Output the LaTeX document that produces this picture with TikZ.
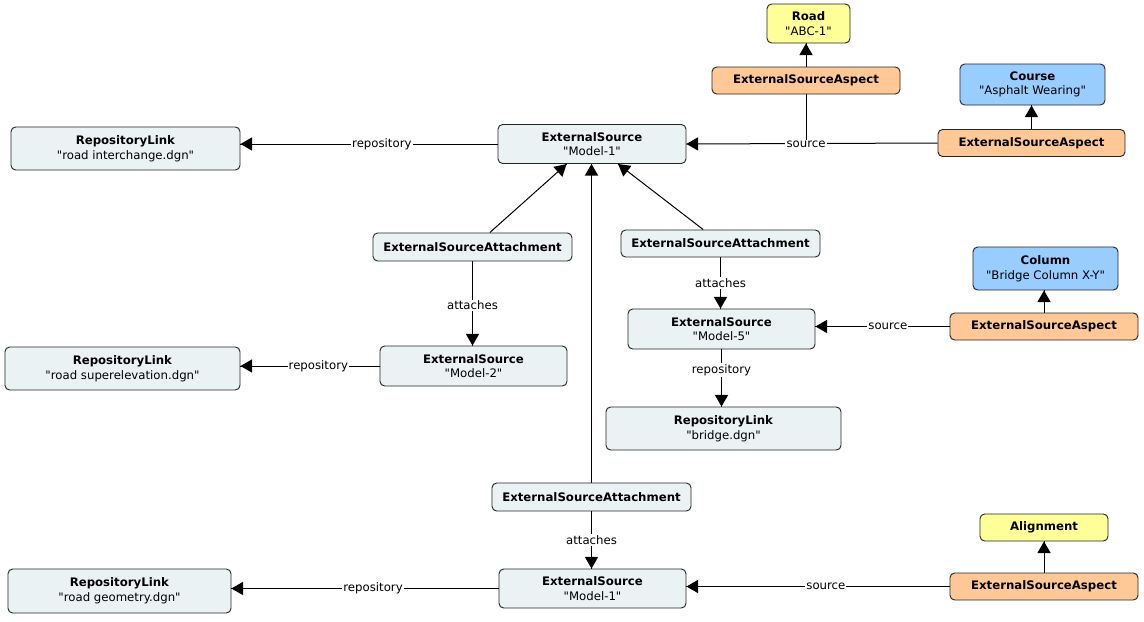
\documentclass[tikz,border=0pt]{standalone}
\usepackage{fontspec}
\setmainfont{DejaVu Sans}[Ligatures=TeXOff]
\usetikzlibrary{arrows}
\usetikzlibrary{decorations.markings}
\usetikzlibrary{positioning}
\tikzset{arr/.style = {decoration={markings,
                                   mark=at position 1 with {\arrow[scale=1.35]{triangle 60}}},
                       postaction={decorate}}}
\tikzset{box/.style = {draw=black!85, line width=0.7pt, rounded corners=3.5pt, align=center,
                       inner sep=0, font=\fontsize{8.8}{11}\selectfont}}
\tikzset{src/.style = {box, fill=srcgray}}
\tikzset{asp/.style = {box, fill=asporange}}
\tikzset{ylw/.style = {box, fill=elemyellow}}
\tikzset{blu/.style = {box, fill=elemblue}}
\tikzset{sz/.style 2 args = {minimum width=#1*0.75pt, minimum height=#2*0.75pt}}
\tikzset{lbl/.style = {fill=white, inner sep=0.8pt, font=\fontsize{8.8}{10}\selectfont}}
\tikzset{conn/.style = {line width=0.75pt}}
\definecolor{srcgray}{RGB}{235, 242, 244}
\definecolor{asporange}{RGB}{255, 200, 150}
\definecolor{elemyellow}{RGB}{255, 255, 153}
\definecolor{elemblue}{RGB}{153, 204, 255}

\begin{document}
\begin{tikzpicture}[x=0.75pt, y=-0.75pt]
  \useasboundingbox (0,0) rectangle (1144,621);

  % top: Model-1 and its aspects
  \node [ylw, sz={83}{39}] (road) at (808.5, 23.5) {\textbf{Road}\\"ABC-1"};
  \node [asp, sz={188}{27}] (aspA) at (806, 80.5) {\textbf{ExternalSourceAspect}};
  \node [blu, sz={145}{41}] (course) at (1032.5, 84.5) {\textbf{Course}\\"Asphalt Wearing"};
  \node [asp, sz={187}{27}] (aspB) at (1031.5, 143) {\textbf{ExternalSourceAspect}};
  \node [src, sz={188}{39}] (model1) at (592, 144) {\textbf{ExternalSource}\\"Model-1"};
  \node [src, sz={229}{43}] (linkA) at (125.5, 148.5) {\textbf{RepositoryLink}\\"road interchange.dgn"};

  % attachments
  \node [src, sz={199}{28}] (attA) at (472.5, 247) {\textbf{ExternalSourceAttachment}};
  \node [src, sz={199}{27}] (attB) at (720.5, 243.5) {\textbf{ExternalSourceAttachment}};
  \node [src, sz={199}{28}] (attC) at (591.5, 497) {\textbf{ExternalSourceAttachment}};

  % Model-2
  \node [src, sz={187}{40}] (model2) at (473.5, 366) {\textbf{ExternalSource}\\"Model-2"};
  \node [src, sz={235}{43}] (linkB) at (122.5, 368.5) {\textbf{RepositoryLink}\\"road superelevation.dgn"};

  % Model-5
  \node [src, sz={187}{40}] (model5) at (721.5, 329) {\textbf{ExternalSource}\\"Model-5"};
  \node [src, sz={235}{43}] (linkC) at (723.5, 428.5) {\textbf{RepositoryLink}\\"bridge.dgn"};
  \node [blu, sz={145}{43}] (column) at (1045.5, 268.5) {\textbf{Column}\\"Bridge Column X-Y"};
  \node [asp, sz={188}{27}] (aspC) at (1044, 326.5) {\textbf{ExternalSourceAspect}};

  % bottom Model-1
  \node [src, sz={187}{39}] (model1b) at (592.5, 588.5) {\textbf{ExternalSource}\\"Model-1"};
  \node [src, sz={223}{44}] (linkD) at (119.5, 591) {\textbf{RepositoryLink}\\"road geometry.dgn"};
  \node [ylw, sz={128}{27}] (alignment) at (1044, 527.5) {\textbf{Alignment}};
  \node [asp, sz={188}{27}] (aspD) at (1044, 586.5) {\textbf{ExternalSourceAspect}};

  % connectors
  \coordinate (jA) at (aspA.south |- model1.east);
  \draw [conn, arr] (aspB.west) -- (model1.east);
  \draw [conn] (aspA.south) -- (jA) node [lbl] {source};
  \draw [conn, arr] (aspA.north) -- (aspA.north |- road.south);
  \draw [conn, arr] (aspB.north) -- (aspB.north |- course.south);
  \draw [conn, arr] (model1.west) -- (model1.west -| linkA.east) node [lbl, pos=0.45] {repository};

  \draw [conn, arr] ([xshift=13pt]attA.north) -- ([xshift=-19pt]model1.south);
  \draw [conn, arr] ([xshift=-13pt]attB.north) -- ([xshift=19.5pt]model1.south);
  \draw [conn, arr] (attC.north) -- (attC.north |- model1.south);

  \draw [conn, arr] (attA.south) -- (attA.south |- model2.north) node [lbl, pos=0.52] {attaches};
  \draw [conn, arr] (model2.west) -- (model2.west -| linkB.east) node [lbl, pos=0.44] {repository};

  \draw [conn, arr] (attB.south) -- (attB.south |- model5.north) node [lbl, pos=0.5] {attaches};
  \draw [conn, arr] (model5.south) -- (model5.south |- linkC.north) node [lbl, pos=0.36] {repository};
  \draw [conn, arr] (aspC.west) -- (aspC.west -| model5.east) node [lbl, pos=0.46] {source};
  \draw [conn, arr] (aspC.north) -- (aspC.north |- column.south);

  \draw [conn, arr] (attC.south) -- (attC.south |- model1b.north) node [lbl, pos=0.5] {attaches};
  \draw [conn, arr] (aspD.west) -- (aspD.west -| model1b.east) node [lbl, pos=0.47] {source};
  \draw [conn, arr] (model1b.west) -- (model1b.west -| linkD.east) node [lbl, pos=0.47] {repository};
  \draw [conn, arr] (aspD.north) -- (aspD.north |- alignment.south);
\end{tikzpicture}
\end{document}
